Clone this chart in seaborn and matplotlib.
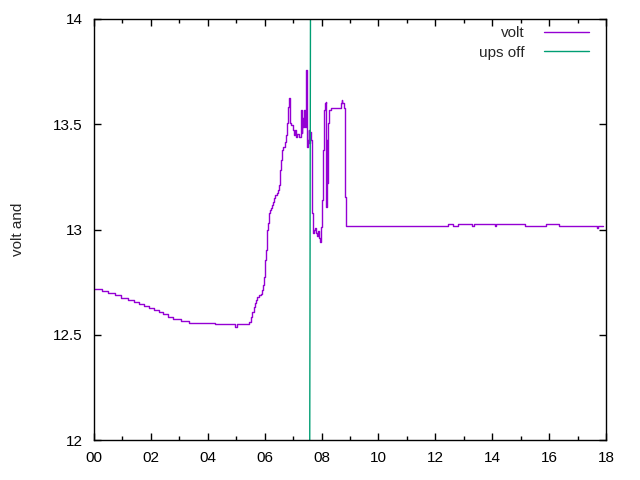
"""Battery voltage over a day with the UPS-off moment marked (gnuplot look)."""

import matplotlib

matplotlib.use("Agg")

import matplotlib.pyplot as plt
import pandas as pd
import seaborn as sns
from matplotlib.ticker import FixedLocator, MultipleLocator


# hours since midnight, volts
VOLT_HOURS = [
    0.00, 0.27, 0.50, 0.74, 0.95, 1.18, 1.42, 1.59, 1.77, 1.94,
    2.12, 2.29, 2.42, 2.59, 2.77, 3.06, 3.35, 4.25, 4.96, 5.02,
    5.46, 5.53, 5.57, 5.61, 5.65, 5.68, 5.74, 5.80, 5.87, 5.92,
    5.95, 5.98, 6.00, 6.02, 6.05, 6.07, 6.09, 6.12, 6.14, 6.18,
    6.21, 6.25, 6.28, 6.33, 6.37, 6.42, 6.47, 6.50, 6.53, 6.55,
    6.57, 6.60, 6.66, 6.70, 6.75, 6.80, 6.83, 6.87, 6.89, 6.94,
    6.99, 7.03, 7.08, 7.11, 7.15, 7.22, 7.27, 7.30, 7.32, 7.35,
    7.38, 7.41, 7.44, 7.46, 7.49, 7.51, 7.55, 7.57, 7.60, 7.62,
    7.65, 7.67, 7.71, 7.74, 7.78, 7.81, 7.84, 7.87, 7.91, 7.95,
    7.98, 8.00, 8.04, 8.10, 8.12, 8.15, 8.16, 8.18, 8.20, 8.24,
    8.26, 8.33, 8.65, 8.68, 8.71, 8.73, 8.80, 8.82, 8.83, 8.86,
    12.46, 12.61, 12.79, 13.28, 13.35, 14.10, 14.15, 15.15, 15.89, 16.36,
    17.67, 17.73, 17.90,
]
VOLT_VALUES = [
    12.716, 12.708, 12.698, 12.689, 12.675, 12.665, 12.654, 12.645, 12.635, 12.626,
    12.616, 12.607, 12.599, 12.584, 12.575, 12.565, 12.557, 12.550, 12.537, 12.550,
    12.562, 12.586, 12.609, 12.633, 12.649, 12.665, 12.681, 12.689, 12.694, 12.713,
    12.736, 12.776, 12.808, 12.855, 12.903, 12.950, 12.998, 13.029, 13.077, 13.093,
    13.101, 13.116, 13.132, 13.148, 13.164, 13.172, 13.188, 13.211, 13.251, 13.283,
    13.330, 13.378, 13.393, 13.417, 13.449, 13.504, 13.583, 13.623, 13.504, 13.496,
    13.473, 13.449, 13.473, 13.441, 13.454, 13.441, 13.568, 13.457, 13.528, 13.488,
    13.568, 13.488, 13.695, 13.758, 13.393, 13.425, 13.473, 13.410, 13.465, 13.425,
    13.283, 13.078, 12.983, 12.998, 13.007, 12.983, 12.969, 12.993, 12.960, 12.942,
    13.013, 13.140, 13.378, 13.568, 13.600, 13.607, 13.108, 13.425, 13.219, 13.504,
    13.568, 13.576, 13.576, 13.600, 13.615, 13.600, 13.576, 13.457, 13.156, 13.018,
    13.026, 13.018, 13.026, 13.018, 13.026, 13.018, 13.026, 13.018, 13.026, 13.018,
    13.005, 13.018, 13.018,
]

UPS_OFF_HOURS = [7.585, 7.610]
UPS_OFF_VALUES = [12.0, 14.0]

X_TICKS = list(range(0, 19, 2))
X_TICK_LABELS = [f"{h:02d}" for h in X_TICKS]
Y_TICKS = [12, 12.5, 13, 13.5, 14]
Y_TICK_LABELS = ["12", "12.5", "13", "13.5", "14"]


def main() -> None:
    sns.set_style("ticks")
    plt.rcParams["font.family"] = ["Liberation Sans", "DejaVu Sans"]
    plt.rcParams["font.size"] = 11

    volt = pd.DataFrame({"hour": VOLT_HOURS, "volt": VOLT_VALUES})
    ups = pd.DataFrame({"hour": UPS_OFF_HOURS, "volt": UPS_OFF_VALUES})

    fig = plt.figure(figsize=(6.4, 4.8), dpi=100)
    ax = fig.add_axes([94 / 640, 40 / 480, 512 / 640, 421 / 480])

    sns.lineplot(
        data=volt, x="hour", y="volt", ax=ax, color="#9400d3",
        linewidth=1, drawstyle="steps-post", label="volt",
    )
    sns.lineplot(
        data=ups, x="hour", y="volt", ax=ax, color="#009e73",
        linewidth=1, label="ups off",
    )

    ax.set_xlim(0, 18)
    ax.set_ylim(12, 14)
    ax.xaxis.set_major_locator(FixedLocator(X_TICKS))
    ax.set_xticklabels(X_TICK_LABELS)
    ax.xaxis.set_minor_locator(MultipleLocator(1))
    ax.yaxis.set_major_locator(FixedLocator(Y_TICKS))
    ax.set_yticklabels(Y_TICK_LABELS)

    ax.tick_params(which="both", direction="in", top=True, right=True,
                   color="black", width=1, labelsize=11, labelcolor="black")
    ax.tick_params(which="major", length=5)
    ax.tick_params(which="minor", length=3)
    ax.tick_params(axis="x", which="major", pad=8)
    ax.tick_params(axis="y", which="major", pad=8)
    for spine in ax.spines.values():
        spine.set_visible(True)
        spine.set_color("black")
        spine.set_linewidth(1)

    ax.set_xlabel("")
    ax.set_ylabel("volt and", fontsize=11, labelpad=20)

    ax.legend(loc="upper right", bbox_to_anchor=(0.99, 1.012), frameon=False,
              markerfirst=False, handlelength=2.9, fontsize=11,
              borderaxespad=0.5, borderpad=0.3, labelspacing=0.35,
              handletextpad=1.3)
    for text in ax.get_legend().get_texts():
        text.set_ha("right")

    fig.savefig("out.png", dpi=100)
    plt.close(fig)


if __name__ == "__main__":
    main()
